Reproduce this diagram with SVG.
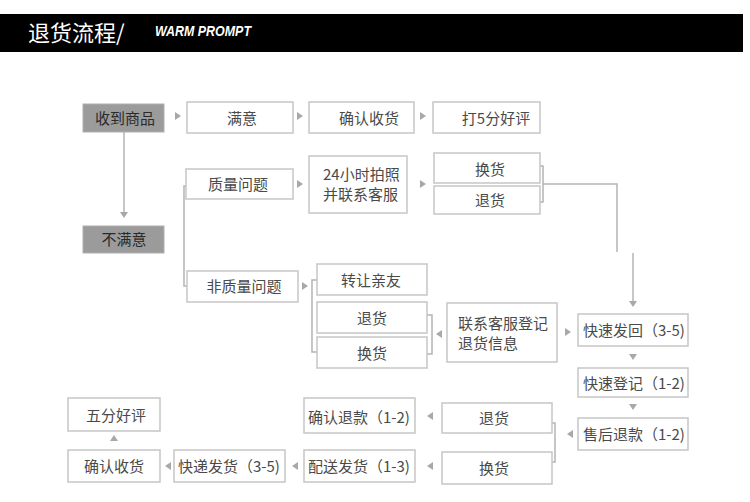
<svg xmlns="http://www.w3.org/2000/svg" width="750" height="502" viewBox="0 0 750 502">
<style>
.box{fill:#fff;stroke:#c6c6c6;stroke-width:1.5}
.dark{fill:#9b9b9b;stroke:#b0b0b0;stroke-width:1}
.t{font-family:"Noto Sans CJK SC","Liberation Sans",sans-serif;font-size:15px;fill:#4a4a4a}
.tc{text-anchor:middle}
.td{fill:#2a2a2a}
.ln{fill:none;stroke:#b4b4b4;stroke-width:1.5}
.ar{fill:#a8a8a8}
</style>
<defs>
<path id="ar" d="M-3,-4 L3,0 L-3,4Z"/>
<path id="al" d="M3,-4 L-3,0 L3,4Z"/>
<path id="ad" d="M-4,-3 L4,-3 L0,3Z"/>
<path id="au" d="M-4,3 L4,3 L0,-3Z"/>
</defs>
<rect width="750" height="502" fill="#fff"/>
<g id="header">
<rect x="0" y="14" width="743" height="38" fill="#000"/>
<text x="28" y="41" font-family="Noto Sans CJK SC,Liberation Sans,sans-serif" font-size="22" fill="#fff">退货流程/</text>
<text x="155" y="36" font-family="Liberation Sans,sans-serif" font-size="14" font-style="italic" font-weight="bold" fill="#fff" textLength="96" lengthAdjust="spacingAndGlyphs">WARM PROMPT</text>
</g>
<g id="connectors">
<path class="ln" d="M124,132 V214"/>
<path class="ln" d="M186,186 H184 V286 H187"/>
<path class="ln" d="M317,280 H312 V352 H317"/>
<path class="ln" d="M427,315 H432 V354 H427"/>
<path class="ln" d="M540,166 H543 V202 H540 M543,184 H617 V252"/>
<path class="ln" d="M633,253 V302"/>
<path class="ln" d="M552,423 H555 V462 H552"/>
<g class="ar">
<use href="#ad" x="124" y="215"/>
<use href="#ad" x="633" y="304"/>
<use href="#ar" x="178" y="116"/>
<use href="#ar" x="300" y="116"/>
<use href="#ar" x="423" y="116"/>
<use href="#ar" x="300" y="184"/>
<use href="#ar" x="423" y="184"/>
<use href="#ar" x="305" y="286"/>
<use href="#ar" x="568" y="332"/>
<use href="#al" x="439" y="334"/>
<use href="#al" x="570" y="434"/>
<use href="#al" x="430" y="416"/>
<use href="#al" x="430" y="466"/>
<use href="#al" x="295" y="466"/>
<use href="#al" x="168" y="466"/>
<use href="#ad" x="633" y="357"/>
<use href="#ad" x="633" y="407"/>
<use href="#au" x="114" y="438"/>
</g>
</g>
<g id="n-shoudao"><rect class="dark" x="83" y="104" width="81" height="28"/><text class="t tc td" x="125" y="124">收到商品</text></g>
<g id="n-manyi"><rect class="box" x="187" y="102" width="106" height="31"/><text class="t tc" x="242" y="124">满意</text></g>
<g id="n-queren1"><rect class="box" x="309" y="102" width="105" height="31"/><text class="t tc" x="369" y="124">确认收货</text></g>
<g id="n-haoping5"><rect class="box" x="433" y="102" width="107" height="31"/><text class="t tc" x="496" y="124">打5分好评</text></g>
<g id="n-bumanyi"><rect class="dark" x="83" y="226" width="81" height="27"/><text class="t tc td" x="124" y="245">不满意</text></g>
<g id="n-zhiliang"><rect class="box" x="186" y="169" width="107" height="30"/><text class="t tc" x="238" y="190">质量问题</text></g>
<g id="n-24h"><rect class="box" x="309" y="156" width="98" height="57"/><text class="t" x="323" y="180">24小时拍照</text><text class="t" x="323" y="200">并联系客服</text></g>
<g id="n-huanhuo1"><rect class="box" x="434" y="153" width="106" height="30"/><text class="t tc" x="490" y="175">换货</text></g>
<g id="n-tuihuo1"><rect class="box" x="434" y="186" width="106" height="28"/><text class="t tc" x="490" y="206">退货</text></g>
<g id="n-feizhiliang"><rect class="box" x="187" y="271" width="111" height="31"/><text class="t tc" x="244" y="292">非质量问题</text></g>
<g id="n-zhuanrang"><rect class="box" x="317" y="264" width="110" height="31"/><text class="t tc" x="371" y="286">转让亲友</text></g>
<g id="n-tuihuo2"><rect class="box" x="317" y="302" width="110" height="31"/><text class="t tc" x="372" y="324">退货</text></g>
<g id="n-huanhuo2"><rect class="box" x="317" y="337" width="110" height="31"/><text class="t tc" x="372" y="359">换货</text></g>
<g id="n-lianxi"><rect class="box" x="447" y="303" width="110" height="59"/><text class="t" x="458" y="329">联系客服登记</text><text class="t" x="458" y="349">退货信息</text></g>
<g id="n-kuaisufahui"><rect class="box" x="578" y="314" width="110" height="32"/><text class="t" x="583" y="336">快速发回（3-5)</text></g>
<g id="n-kuaisudengji"><rect class="box" x="578" y="368" width="110" height="29"/><text class="t" x="583" y="389">快速登记（1-2)</text></g>
<g id="n-shouhou"><rect class="box" x="578" y="418" width="110" height="32"/><text class="t" x="583" y="440">售后退款（1-2)</text></g>
<g id="n-tuihuo3"><rect class="box" x="442" y="403" width="110" height="30"/><text class="t tc" x="494" y="424">退货</text></g>
<g id="n-huanhuo3"><rect class="box" x="442" y="452" width="110" height="32"/><text class="t tc" x="494" y="474">换货</text></g>
<g id="n-querentuikuan"><rect class="box" x="304" y="398" width="111" height="35"/><text class="t" x="308" y="423">确认退款（1-2)</text></g>
<g id="n-peisong"><rect class="box" x="304" y="450" width="111" height="32"/><text class="t" x="308" y="472">配送发货（1-3)</text></g>
<g id="n-kuaidi"><rect class="box" x="174" y="450" width="111" height="32"/><text class="t" x="178" y="472">快递发货（3-5)</text></g>
<g id="n-queren2"><rect class="box" x="68" y="450" width="92" height="32"/><text class="t tc" x="114" y="472">确认收货</text></g>
<g id="n-wufen"><rect class="box" x="68" y="398" width="92" height="33"/><text class="t tc" x="116" y="421">五分好评</text></g>
</svg>
